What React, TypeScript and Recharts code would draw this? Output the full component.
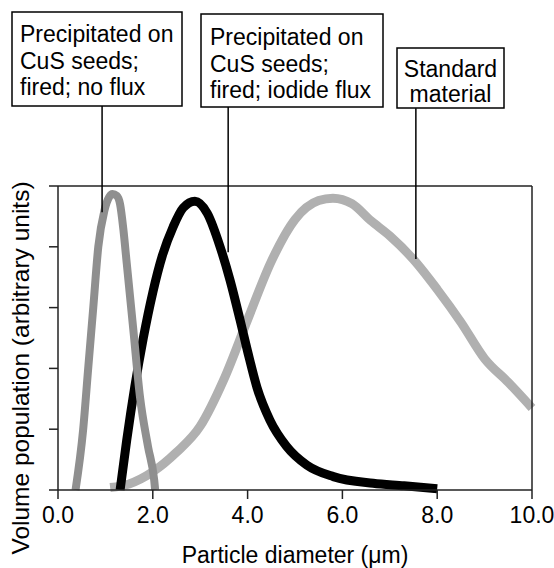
import React from "react";
import { LineChart, Line, XAxis, YAxis, ReferenceLine } from "recharts";

// Series A: precipitated on CuS seeds; fired; no flux
const noFluxX = [0.37, 0.53, 0.64, 0.745, 0.85, 0.98, 1.08, 1.15, 1.24, 1.31, 1.38, 1.45, 1.59, 1.73, 1.9, 2.03, 2.05];
const noFluxY = [0, 0.99, 2.03, 3.01, 4.0, 4.6, 4.82, 4.87, 4.84, 4.7, 4.28, 3.73, 2.63, 1.53, 0.71, 0.16, 0];

// Series B: precipitated on CuS seeds; fired; iodide flux
const iodideX = [1.31, 1.45, 1.62, 1.8, 2.0, 2.2, 2.43, 2.64, 2.89, 3.15, 3.42, 3.63, 3.84, 4.0, 4.2, 4.47, 4.82, 5.25, 5.81, 6.65, 7.3, 8.0];
const iodideY = [0, 0.82, 1.7, 2.5, 3.25, 3.85, 4.33, 4.64, 4.75, 4.55, 4.0, 3.45, 2.8, 2.28, 1.68, 1.15, 0.72, 0.41, 0.22, 0.11, 0.07, 0.02];

// Series C: standard material
const standardX = [1.1, 1.5, 2.0, 2.5, 3.0, 3.5, 4.0, 4.5, 5.0, 5.5, 5.8, 6.2, 6.6, 7.0, 7.5, 8.0, 8.5, 9.0, 9.5, 10.0];
const standardY = [0.04, 0.1, 0.3, 0.62, 1.05, 1.82, 2.8, 3.76, 4.45, 4.76, 4.8, 4.71, 4.43, 4.18, 3.79, 3.3, 2.76, 2.16, 1.77, 1.35];

const xTicks = [0, 2, 4, 6, 8, 10];
const yTicks = [0, 1, 2, 3, 4, 5];

// Leader lines: x position, lower end, upper end (data units)
const leaderX = [0.93, 3.59, 7.55];
const leaderLow = [4.57, 3.91, 3.8];
const leaderHigh = [6.33, 6.3, 6.28];

const boxLines = [
  ["Precipitated on", "CuS seeds;", "fired; no flux"],
  ["Precipitated on", "CuS seeds;", "fired; iodide flux"],
  ["Standard", "material"],
];

const xLabel = "Particle diameter (\u03bcm)";
const yLabel = "Volume population (arbitrary units)";

const zip = (xs: number[], ys: number[]) => xs.map((x, i) => ({ x, y: ys[i] }));
const noFluxData = zip(noFluxX, noFluxY);
const iodideData = zip(iodideX, iodideY);
const standardData = zip(standardX, standardY);

const FONT = "'Liberation Sans', Arial, Helvetica, sans-serif";
const AX = "#222";
const FS = 23;

const XTick = (props: any) => {
  const { x, y, payload } = props;
  return (
    <g>
      <line x1={x} x2={x} y1={y - 17} y2={y - 8} stroke={AX} strokeWidth={1.5} />
      <text x={x} y={y} dy="0.71em" textAnchor="middle" fill="#000" fontSize={FS} fontFamily={FONT}>
        {Number(payload.value).toFixed(1)}
      </text>
    </g>
  );
};

const LeftTick = (props: any) => {
  const { x, y } = props;
  return <line x1={x} x2={x + 9} y1={y} y2={y} stroke={AX} strokeWidth={1.5} />;
};

const RightTick = (props: any) => {
  const { x, y } = props;
  return <line x1={x - 9} x2={x} y1={y} y2={y} stroke={AX} strokeWidth={1.5} />;
};

export default function App() {
  return (
    <div style={{ position: "absolute", left: 0, top: 0, width: 554, height: 568, background: "#fff", fontFamily: FONT }}>
      <LineChart width={554} height={568} margin={{ top: 186, right: 13, bottom: 0, left: 49 }}>
        <XAxis
          type="number"
          dataKey="x"
          domain={[0, 10]}
          ticks={xTicks}
          height={78}
          tickSize={8}
          tickMargin={9}
          tick={<XTick />}
          tickLine={false}
          axisLine={{ stroke: AX, strokeWidth: 1.5 }}
          label={{ value: xLabel, position: "insideBottom", offset: 5, fill: "#000", fontSize: FS, fontFamily: FONT }}
        />
        <YAxis
          yAxisId="l"
          type="number"
          domain={[0, 5]}
          ticks={yTicks}
          width={9}
          tickSize={9}
          tickMargin={0}
          tick={<LeftTick />}
          tickLine={false}
          axisLine={{ stroke: AX, strokeWidth: 1.5 }}
        />
        <YAxis
          yAxisId="r"
          orientation="right"
          type="number"
          domain={[0, 5]}
          ticks={yTicks}
          width={9}
          tickSize={9}
          tickMargin={0}
          tick={<RightTick />}
          tickLine={false}
          axisLine={{ stroke: AX, strokeWidth: 1.5 }}
        />
        <ReferenceLine yAxisId="l" y={5} stroke={AX} strokeWidth={1.5} />
        <Line yAxisId="l" data={standardData} dataKey="y" type="monotone" stroke="#b0b0b0" strokeWidth={9} dot={false} isAnimationActive={false} strokeLinejoin="round" />
        <Line yAxisId="l" data={iodideData} dataKey="y" type="monotone" stroke="#000" strokeWidth={9} dot={false} isAnimationActive={false} strokeLinejoin="round" />
        <Line yAxisId="l" data={noFluxData} dataKey="y" type="monotone" stroke="#8f8f8f" strokeWidth={8} dot={false} isAnimationActive={false} strokeLinejoin="round" />
        {leaderX.map((lx, i) => (
          <ReferenceLine
            key={i}
            yAxisId="l"
            ifOverflow="visible"
            segment={[{ x: lx, y: leaderLow[i] }, { x: lx, y: leaderHigh[i] }]}
            stroke="#000"
            strokeWidth={1.5}
          />
        ))}
      </LineChart>
      <svg width={554} height={568} style={{ position: "absolute", left: 0, top: 0, pointerEvents: "none" }}>
        <g fontFamily={FONT} fontSize={FS} fill="#000">
          <rect x={12} y={12} width={170} height={94} fill="#fff" stroke="#000" strokeWidth={1.5} />
          {boxLines[0].map((t, i) => (
            <text key={i} x={20} y={42 + i * 26.5}>{t}</text>
          ))}
          <rect x={201} y={14} width={182} height={93} fill="#fff" stroke="#000" strokeWidth={1.5} />
          {boxLines[1].map((t, i) => (
            <text key={i} x={210} y={45 + i * 26.5}>{t}</text>
          ))}
          <rect x={397} y={48} width={107} height={60} fill="#fff" stroke="#000" strokeWidth={1.5} />
          {boxLines[2].map((t, i) => (
            <text key={i} x={450.5} y={77 + i * 25} textAnchor="middle">{t}</text>
          ))}
          <text x={29} y={368} fontSize={24.5} textAnchor="middle" transform="rotate(-90, 29, 368)">{yLabel}</text>
        </g>
      </svg>
    </div>
  );
}
